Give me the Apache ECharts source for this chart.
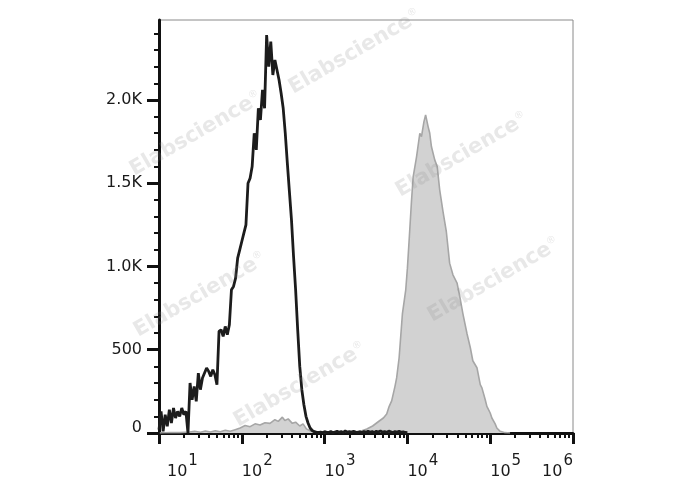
<!DOCTYPE html>
<html>
<head>
<meta charset="utf-8">
<script src="https://cdn.jsdelivr.net/npm/echarts@6/dist/echarts.min.js"></script>
<style>html,body{margin:0;padding:0;background:#fff;}#c{width:688px;height:490px;}</style>
</head>
<body>
<div id="c"></div>
<script>
// Black open histogram: bins start at 10^1, bin width 0.025 decade
var blackBinStart = 1.0;
var blackBinStep = 0.025;
var blackCounts = [
 20,130,10,110,40,140,60,150,90,130,100,150,110,130,0,300,200,280,190,360,
 260,330,360,390,370,340,380,350,290,610,620,580,640,590,650,860,880,930,1050,1100,
 1150,1200,1250,1500,1530,1600,1800,1700,1950,1880,2060,1950,2390,2200,2350,2150,2240,2180,2120,2040,
 1950,1800,1620,1450,1280,1060,860,620,400,260,170,100,60,30,15,8,5,3,6,2,
 8,4,3,9,2,6,10,4,8,3,12,5,9,4,10,6,3,7,2,9,
 5,11,4,8,3,10,6,12,5,9,4,11,7,3,8,5,10,4,7,3,2
];
// Grey filled histogram (decade exponent, count)
var greyLog = [1.01,1.13,1.25,1.37,1.43,1.50,1.56,1.62,1.68,1.74,1.80,1.86,1.92,1.98,2.04,2.10,2.16,2.22,2.28,2.34,
 2.40,2.44,2.49,2.52,2.56,2.61,2.65,2.70,2.74,2.78,2.82,2.88,3.00,3.13,3.25,3.37,3.45,3.51,3.58,3.66,
 3.71,3.75,3.78,3.81,3.85,3.87,3.90,3.94,3.98,4.00,4.02,4.05,4.07,4.11,4.15,4.17,4.20,4.22,4.25,4.27,
 4.29,4.33,4.36,4.39,4.43,4.47,4.51,4.55,4.60,4.64,4.67,4.72,4.76,4.79,4.84,4.88,4.90,4.94,4.96,5.00,
 5.02,5.06,5.08,5.12,5.18,5.24];
var greyCounts = [0,3,2,6,10,4,12,6,14,8,16,10,20,30,45,38,55,48,62,58,
 80,70,95,75,85,58,65,42,55,25,14,6,4,6,5,8,14,24,42,72,
 90,114,160,193,280,331,452,717,860,990,1150,1398,1540,1657,1800,1780,1870,1910,1840,1800,
 1720,1640,1600,1460,1330,1210,1020,950,900,800,717,596,512,434,392,290,271,200,160,120,
 90,55,30,10,2,0];
// Axis ticks
var xExponents = [1,2,3,4,5,6];
var xMinorMultipliers = [2,3,4,5,6,7,8,9];
var yTickValues = [0,500,1000,1500,2000];
var yTickLabels = ['0','500','1.0K','1.5K','2.0K'];
var yMinorValues = [100,200,300,400,600,700,800,900,1100,1200,1300,1400,1600,1700,1800,1900,2100,2200,2300,2400];
var watermarkText = 'Elabscience';

var blackData = blackCounts.map(function(c,i){ return [blackBinStart + i*blackBinStep, c]; });
var greyData = greyLog.map(function(l,i){ return [l, greyCounts[i]]; });
var minorVals = [];
xExponents.slice(0,-1).forEach(function(e){ xMinorMultipliers.forEach(function(m){ minorVals.push(e + Math.log10(m)); }); });

var font = '"DejaVu Sans", Verdana, sans-serif';
var wm = [[355,52],[196,134],[462,155],[200,295],[494,280],[300,385]];
var chart = echarts.init(document.getElementById('c'));
chart.setOption({
  animation:false,
  grid:{left:159, top:20, right:115, bottom:57, show:true, borderColor:'#8a8a8a', borderWidth:1},
  xAxis:[{
    type:'value', min:1, max:6, interval:1, position:'bottom',
    axisLine:{lineStyle:{color:'#111', width:3}},
    axisTick:{length:11, lineStyle:{color:'#111', width:3}},
    splitLine:{show:false},
    axisLabel:{
      margin:17, align:'left', alignMaxLabel:'right', color:'#1a1a1a',
      formatter:function(v){ return (v===1?'{b1|10}':'{b|10}') + '{s|' + v + '}'; },
      rich:{
        b:{fontSize:16, fontFamily:font, color:'#1a1a1a', verticalAlign:'bottom', lineHeight:30},
        b1:{fontSize:16, fontFamily:font, color:'#1a1a1a', verticalAlign:'bottom', lineHeight:30, padding:[0,0,0,8]},
        s:{fontSize:15, fontFamily:font, color:'#1a1a1a', verticalAlign:'top', lineHeight:30, padding:[4,0,0,1]}
      }
    }
  },{
    type:'value', min:1, max:6, position:'bottom',
    axisLine:{show:false}, splitLine:{show:false}, axisLabel:{show:false},
    axisTick:{show:true, customValues:minorVals, length:5, lineStyle:{color:'#111', width:2}}
  }],
  yAxis:[{
    type:'value', min:0, max:2480, interval:500,
    axisLine:{show:true, lineStyle:{color:'#111', width:3}},
    axisTick:{show:true, customValues:yTickValues, length:12, lineStyle:{color:'#111', width:3}},
    splitLine:{show:false},
    axisLabel:{margin:17, color:'#1a1a1a', fontSize:16, fontFamily:font, customValues:yTickValues,
      formatter:function(v){ var i = yTickValues.indexOf(v); if (i<0) return ''; return v===0 ? '{z|0}' : yTickLabels[i]; },
      rich:{z:{fontSize:16, fontFamily:font, color:'#1a1a1a', padding:[0,0,10,0]}}}
  },{
    type:'value', min:0, max:2480, position:'left',
    axisLine:{show:false}, splitLine:{show:false}, axisLabel:{show:false},
    axisTick:{show:true, customValues:yMinorValues, length:5, lineStyle:{color:'#111', width:2}}
  }],
  graphic: wm.map(function(p){
    return {type:'text', x:p[0], y:p[1], rotation:Math.PI/6, z:100, silent:true,
      style:{text:'{a|'+watermarkText+'}{r|®}', align:'center', verticalAlign:'middle',
        rich:{a:{fontSize:21, fontWeight:'bold', fontFamily:font, fill:'rgba(140,140,140,0.2)'},
              r:{fontSize:10, fontFamily:font, fill:'rgba(140,140,140,0.2)', verticalAlign:'top'}}}};
  }),
  series:[{
    type:'line', data:greyData, showSymbol:false, z:2,
    lineStyle:{color:'#a6a6a6', width:1.6},
    areaStyle:{color:'#d2d2d2', opacity:1}
  },{
    type:'line', data:blackData, showSymbol:false, z:3,
    lineStyle:{color:'#1c1c1c', width:2.8}
  }]
});
</script>
</body>
</html>
